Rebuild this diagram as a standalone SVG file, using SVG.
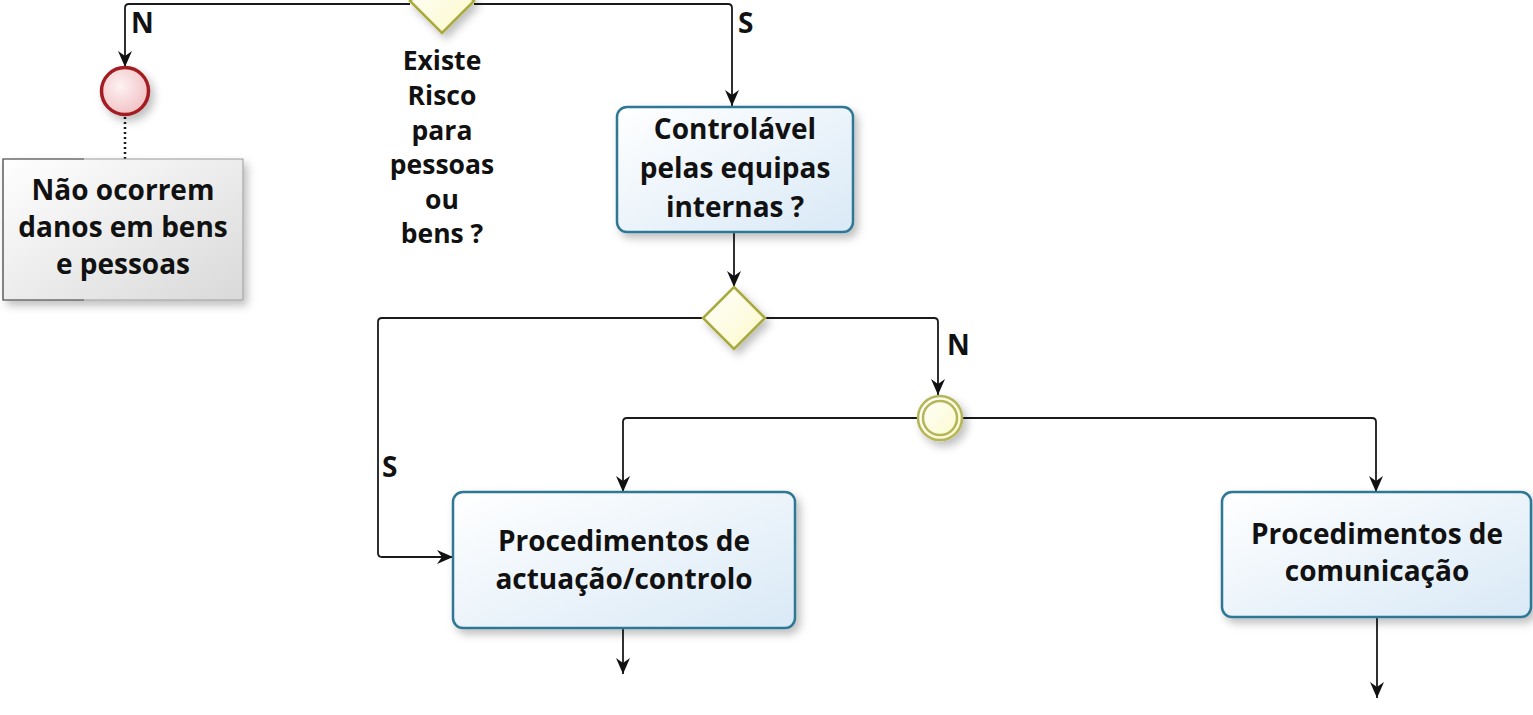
<svg xmlns="http://www.w3.org/2000/svg" width="1533" height="715" viewBox="0 0 1533 715">
<style>
.lbl{font-family:"Open Sans","Noto Sans",sans-serif;font-weight:700;font-size:28px;fill:#111;text-anchor:middle}
.gl{font-size:26.5px}
.fl{font-family:"Open Sans","Noto Sans",sans-serif;font-weight:700;font-size:28px;fill:#111}
.edge{fill:none;stroke:#1a1a1a;stroke-width:1.8}
.task{fill:url(#gTask);stroke:#2f7896;stroke-width:2.5;filter:url(#sh)}
.gw{fill:url(#gGw);stroke:#a9a93c;stroke-width:2.5;filter:url(#sh)}
</style>
<defs>
<linearGradient id="gTask" x1="0" y1="0" x2="1" y2="1">
<stop offset="0" stop-color="#ffffff"/><stop offset="1" stop-color="#d9e9f6"/>
</linearGradient>
<linearGradient id="gGw" x1="0" y1="0" x2="1" y2="1">
<stop offset="0" stop-color="#ffffff"/><stop offset="1" stop-color="#fbf9c8"/>
</linearGradient>
<linearGradient id="gAnn" x1="0" y1="0" x2="1" y2="1">
<stop offset="0" stop-color="#ffffff"/><stop offset="1" stop-color="#d9d9d9"/>
</linearGradient>
<radialGradient id="gEnd" cx="0.4" cy="0.4" r="0.7">
<stop offset="0" stop-color="#fdf2f2"/><stop offset="1" stop-color="#f0bcbf"/>
</radialGradient>
<filter id="sh" x="-20%" y="-20%" width="150%" height="150%">
<feDropShadow dx="4" dy="5" stdDeviation="4" flood-color="#000" flood-opacity="0.25"/>
</filter>
<marker id="arr" viewBox="0 0 16 14" refX="16" refY="7" markerWidth="16" markerHeight="14" markerUnits="userSpaceOnUse" orient="auto">
<path d="M0,0 L16,7 L0,14 L5,7 z" fill="#111"/>
</marker>
</defs>

<g id="connectors">
<path class="edge" d="M410,4 H129 Q125,4 125,8 V67" marker-end="url(#arr)"/>
<path class="edge" d="M474,4 H728 Q732,4 732,8 V106" marker-end="url(#arr)"/>
<path d="M125,117 V160" stroke-dasharray="2,3" style="fill:none;stroke:#1a1a1a;stroke-width:2.5"/>
<path class="edge" d="M734,233 V287" marker-end="url(#arr)"/>
<path class="edge" d="M703,318 H382 Q378,318 378,322 V553 Q378,557 382,557 H453" marker-end="url(#arr)"/>
<path class="edge" d="M765,318 H934 Q938,318 938,322 V395" marker-end="url(#arr)"/>
<path class="edge" d="M917,418 H627 Q623,418 623,422 V492" marker-end="url(#arr)"/>
<path class="edge" d="M962,418 H1372 Q1376,418 1376,422 V492" marker-end="url(#arr)"/>
<path class="edge" d="M623,629 V674" marker-end="url(#arr)"/>
<path class="edge" d="M1377,618 V698" marker-end="url(#arr)"/>
<text class="fl" x="131" y="33">N</text>
<text class="fl" x="738" y="33">S</text>
<text class="fl" x="947" y="355">N</text>
<text class="fl" x="382" y="477">S</text>
</g>

<g id="gw1">
<path class="gw" d="M442,-31 L474,1 L442,33 L410,1 Z"/>
<text class="lbl gl"><tspan x="442" y="70">Existe</tspan><tspan x="442" y="105">Risco</tspan><tspan x="442" y="140">para</tspan><tspan x="442" y="174">pessoas</tspan><tspan x="442" y="209">ou</tspan><tspan x="442" y="243">bens ?</tspan></text>
</g>

<g id="endEvent">
<circle cx="125" cy="91" r="23.5" fill="url(#gEnd)" stroke="#a31d24" stroke-width="3.5" filter="url(#sh)"/>
</g>

<g id="annotation">
<rect x="3" y="159" width="240" height="141" fill="url(#gAnn)" stroke="#9a9a9a" stroke-width="1" filter="url(#sh)"/>
<path d="M84,159 H3 V300 H84" fill="none" stroke="#555" stroke-width="1.2"/>
<text class="lbl"><tspan x="123" y="200">Não ocorrem</tspan><tspan x="123" y="237">danos em bens</tspan><tspan x="123" y="274">e pessoas</tspan></text>
</g>

<g id="task1">
<rect class="task" x="617" y="107" width="236" height="125" rx="10"/>
<text class="lbl"><tspan x="735" y="139">Controlável</tspan><tspan x="735" y="178">pelas equipas</tspan><tspan x="735" y="217">internas ?</tspan></text>
</g>

<g id="gw2">
<path class="gw" d="M734,287 L765,318 L734,349 L703,318 Z"/>
</g>

<g id="interEvent">
<circle cx="940" cy="418" r="22" fill="url(#gGw)" stroke="#b5b55a" stroke-width="2.5" filter="url(#sh)"/>
<circle cx="940" cy="418" r="17" fill="none" stroke="#b5b55a" stroke-width="2.5"/>
</g>

<g id="task2">
<rect class="task" x="453" y="492" width="342" height="136" rx="10"/>
<text class="lbl"><tspan x="624" y="551">Procedimentos de</tspan><tspan x="624" y="589">actuação/controlo</tspan></text>
</g>

<g id="task3">
<rect class="task" x="1222" y="492" width="309" height="125" rx="10"/>
<text class="lbl"><tspan x="1377" y="544">Procedimentos de</tspan><tspan x="1377" y="581">comunicação</tspan></text>
</g>
</svg>
